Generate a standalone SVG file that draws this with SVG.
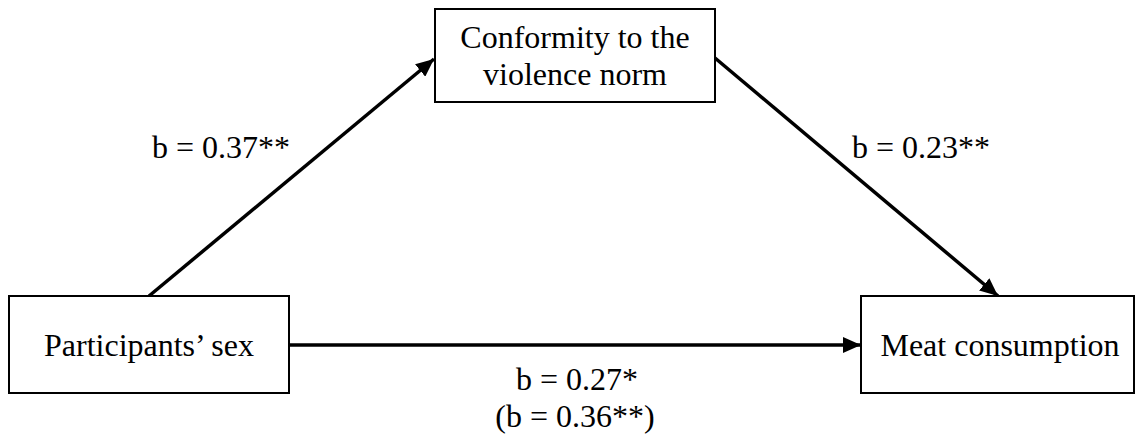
<svg xmlns="http://www.w3.org/2000/svg" width="1135" height="439" viewBox="0 0 1135 439">
<style>
.box{fill:#fff;stroke:#000;stroke-width:2}
.t{font-family:"Liberation Serif","Times New Roman",serif;font-size:32px;fill:#000;text-anchor:middle}
.c{stroke:#000;stroke-width:3.5;fill:none;marker-end:url(#ah)}
</style>
<defs>
<marker id="ah" markerUnits="userSpaceOnUse" markerWidth="20" markerHeight="16" refX="18" refY="8" orient="auto">
<path d="M0,0 L18,8 L0,16 Z" fill="#000"/>
</marker>
</defs>
<rect width="1135" height="439" fill="#fff"/>
<g id="connectors">
<line class="c" x1="149" y1="296" x2="434" y2="59"/>
<line class="c" x1="715" y1="58" x2="998" y2="296"/>
<line class="c" x1="289" y1="345" x2="861" y2="345"/>
</g>
<g id="mediator">
<rect class="box" x="435" y="9" width="280" height="93"/>
<text class="t" x="575" y="48">Conformity to the</text>
<text class="t" x="575" y="85">violence norm</text>
</g>
<g id="predictor">
<rect class="box" x="9" y="296" width="280" height="97"/>
<text class="t" x="149" y="356">Participants’ sex</text>
</g>
<g id="outcome">
<rect class="box" x="861" y="296" width="273" height="97"/>
<text class="t" x="1000" y="356">Meat consumption</text>
</g>
<g id="labels">
<text class="t" x="221" y="158">b = 0.37**</text>
<text class="t" x="921" y="158">b = 0.23**</text>
<text class="t" x="577" y="390">b = 0.27*</text>
<text class="t" x="575" y="427">(b = 0.36**)</text>
</g>
</svg>
